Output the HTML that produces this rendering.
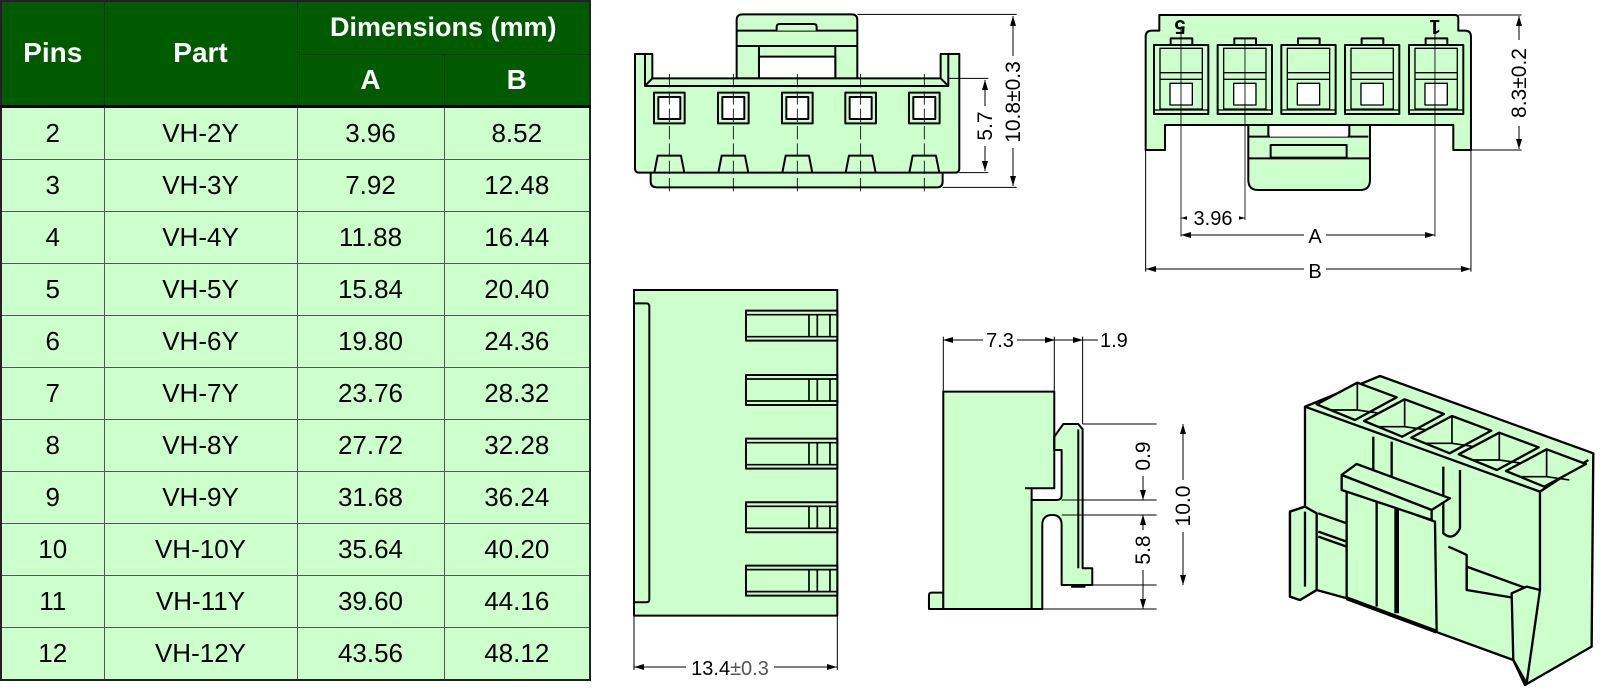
<!DOCTYPE html>
<html><head><meta charset="utf-8"><style>
html,body{margin:0;padding:0;background:#fff;}
body{width:1600px;height:691px;position:relative;overflow:hidden;font-family:"Liberation Sans",sans-serif;}
table{position:absolute;left:0;top:0;border-collapse:collapse;width:589px;table-layout:fixed;border:2px solid #222;}
td,th{border:1px solid #555;text-align:center;padding:0;font-size:26px;}
th{background:#005a00;color:#fff;font-weight:bold;border-color:#003a00;font-size:28px;}
td{background:#ccffcc;color:#000;height:51px;}
tr.h2 th{border-bottom:3px solid #000;}
svg{position:absolute;left:0;top:0;}
</style></head><body>
<table>
<colgroup><col style="width:103px"><col style="width:193px"><col style="width:147px"><col style="width:146px"></colgroup>
<tr style="height:53px"><th rowspan="2" style="border-bottom:3px solid #000">Pins</th><th rowspan="2" style="border-bottom:3px solid #000">Part</th><th colspan="2" style="font-size:27px">Dimensions (mm)</th></tr>
<tr class="h2" style="height:52px"><th>A</th><th>B</th></tr>
<tr><td>2</td><td>VH-2Y</td><td>3.96</td><td>8.52</td></tr>
<tr><td>3</td><td>VH-3Y</td><td>7.92</td><td>12.48</td></tr>
<tr><td>4</td><td>VH-4Y</td><td>11.88</td><td>16.44</td></tr>
<tr><td>5</td><td>VH-5Y</td><td>15.84</td><td>20.40</td></tr>
<tr><td>6</td><td>VH-6Y</td><td>19.80</td><td>24.36</td></tr>
<tr><td>7</td><td>VH-7Y</td><td>23.76</td><td>28.32</td></tr>
<tr><td>8</td><td>VH-8Y</td><td>27.72</td><td>32.28</td></tr>
<tr><td>9</td><td>VH-9Y</td><td>31.68</td><td>36.24</td></tr>
<tr><td>10</td><td>VH-10Y</td><td>35.64</td><td>40.20</td></tr>
<tr><td>11</td><td>VH-11Y</td><td>39.60</td><td>44.16</td></tr>
<tr><td>12</td><td>VH-12Y</td><td>43.56</td><td>48.12</td></tr>
</table>

<svg width="1600" height="691" viewBox="0 0 1600 691" xmlns="http://www.w3.org/2000/svg" font-family="Liberation Sans, sans-serif">
<defs>
<marker id="ar" viewBox="0 0 10 6" refX="10" refY="3" markerWidth="10" markerHeight="6" markerUnits="userSpaceOnUse" orient="auto-start-reverse"><path d="M0,0 L10,3 L0,6 Z" fill="#000"/></marker>
</defs>

<!-- TOP LEFT VIEW -->
<g transform="translate(600,0) scale(0.3333)" fill="#ccffcc" stroke="#000" stroke-width="6" stroke-linejoin="round">
 <path d="M152,518 V545 Q152,562 170,562 H1012 Q1028,562 1028,545 V518"/>
 <path d="M410,235 V60 Q410,43 428,43 H755 Q772,43 772,60 V235 Z"/>
 <path d="M410,92 H772 M410,138 H772"/>
 <rect x="477" y="138" width="229" height="97"/>
 <rect x="477" y="170" width="229" height="65" fill="#fff"/>
 <path d="M530,92 V80 Q530,72 540,72 H640 Q650,72 650,80 V92"/>
 <path d="M105,162 H157 V235 H1022 V162 H1078 V505 Q1078,518 1065,518 H118 Q105,518 105,505 Z"/>
 <path d="M135,162 V258 L157,235 M135,258 H1045 L1022,235 M1045,258 V162" fill="none"/>
 <g>
  <rect x="162" y="278" width="92" height="92"/><rect x="175" y="291" width="66" height="66" fill="#fff"/>
  <rect x="354" y="278" width="92" height="92"/><rect x="367" y="291" width="66" height="66" fill="#fff"/>
  <rect x="546" y="278" width="92" height="92"/><rect x="559" y="291" width="66" height="66" fill="#fff"/>
  <rect x="736" y="278" width="92" height="92"/><rect x="749" y="291" width="66" height="66" fill="#fff"/>
  <rect x="927" y="278" width="92" height="92"/><rect x="940" y="291" width="66" height="66" fill="#fff"/>
 </g>
 <path d="M163,518 L173,467 H243 L253,518 M355,518 L365,467 H435 L445,518 M547,518 L557,467 H627 L637,518 M737,518 L747,467 H817 L827,518 M928,518 L938,467 H1008 L1018,518" fill="none"/>
 <path d="M208,222 V575 M400,222 V575 M592,222 V575 M782,222 V575 M973,222 V575" stroke-width="2.5" stroke-dasharray="40,12" fill="none"/>
 <path d="M772,43 H1250 M1045,235 H1165 M1078,518 H1165 M1028,562 H1250" stroke-width="3" fill="none"/>
</g>
<line x1="985" y1="80" x2="985" y2="171" stroke="#000" stroke-width="1" marker-start="url(#ar)" marker-end="url(#ar)"/>
<line x1="1013" y1="16" x2="1013" y2="186" stroke="#000" stroke-width="1" marker-start="url(#ar)" marker-end="url(#ar)"/>
<rect x="974" y="106" width="22" height="40" fill="#fff"/>
<rect x="1002" y="56" width="22" height="92" fill="#fff"/>
<text transform="translate(992,126) rotate(-90)" text-anchor="middle" font-size="21">5.7</text>
<text transform="translate(1020,102) rotate(-90)" text-anchor="middle" font-size="21">10.8±0.3</text>

<!-- TOP RIGHT VIEW -->
<g transform="translate(1100,0) scale(0.3333)" fill="#ccffcc" stroke="#000" stroke-width="6" stroke-linejoin="round">
 <path d="M445,375 V540 Q445,570 475,570 H780 Q810,570 810,540 V375 Z"/>
 <path d="M447,410 H805 M445,475 H810 M505,375 V410 M748,375 V410" fill="none"/>
 <rect x="510" y="375" width="233" height="35" fill="#fff" stroke="none"/>
 <rect x="512" y="435" width="228" height="38"/>
 <path d="M178,45 H1065 Q1075,45 1075,55 V92 H1095 Q1113,92 1113,110 V450 H1060 V375 H195 V450 H137 V110 Q137,92 155,92 H178 Z"/>
 <g id="cav">
  <rect x="212" y="115" width="65" height="22"/>
  <rect x="162" y="135" width="163" height="207"/>
  <rect x="180" y="145" width="127" height="182" fill="none" stroke-width="4"/>
  <path d="M180,218 H307 M180,238 H307" fill="none" stroke-width="4"/>
  <rect x="210" y="250" width="67" height="65" fill="#fff" stroke-width="4"/>
  <path d="M162,330 H325" fill="none" stroke-width="4"/>
 </g>
 <use href="#cav" x="191"/><use href="#cav" x="382"/><use href="#cav" x="573"/><use href="#cav" x="765"/>
 <path d="M243,80 V710 M435,115 V660 M1005,80 V710" stroke-width="2.5" fill="none"/>
 <path d="M137,450 V815 M1113,450 V815 M1075,45 H1265 M1113,450 H1265" stroke-width="3" fill="none"/>
</g>
<text transform="translate(1180,20) rotate(180)" text-anchor="middle" font-size="20" font-weight="bold">5</text>
<text transform="translate(1435,20) rotate(180)" text-anchor="middle" font-size="20" font-weight="bold">1</text>
<line x1="1181" y1="218" x2="1245" y2="218" stroke="#000" stroke-width="1" marker-start="url(#ar)" marker-end="url(#ar)"/>
<rect x="1187" y="206" width="52" height="22" fill="#fff"/>
<text x="1213" y="225" text-anchor="middle" font-size="20">3.96</text>
<line x1="1181" y1="235" x2="1435" y2="235" stroke="#000" stroke-width="1" marker-start="url(#ar)" marker-end="url(#ar)"/>
<rect x="1304" y="224" width="22" height="22" fill="#fff"/>
<text x="1315" y="243" text-anchor="middle" font-size="20">A</text>
<line x1="1146" y1="269" x2="1471" y2="269" stroke="#000" stroke-width="1" marker-start="url(#ar)" marker-end="url(#ar)"/>
<rect x="1304" y="258" width="22" height="24" fill="#fff"/>
<text x="1315" y="278" text-anchor="middle" font-size="20">B</text>
<line x1="1519" y1="16" x2="1519" y2="149" stroke="#000" stroke-width="1" marker-start="url(#ar)" marker-end="url(#ar)"/>
<rect x="1508" y="40" width="22" height="86" fill="#fff"/>
<text transform="translate(1526,83) rotate(-90)" text-anchor="middle" font-size="21">8.3±0.2</text>

<!-- BOTTOM LEFT + MIDDLE -->
<g transform="translate(610,270) scale(0.3333)" fill="#ccffcc" stroke="#000" stroke-width="6" stroke-linejoin="round">
 <rect x="72" y="60" width="610" height="977"/>
 <path d="M72,100 H110 Q118,100 118,110 V988 Q118,997 110,997 H72" fill="none"/>
 <g id="slot">
  <rect x="408" y="122" width="274" height="90"/>
  <path d="M408,134 H682 M408,200 H682 M597,134 V200 M622,134 V200 M660,134 V200" fill="none" stroke-width="5"/>
 </g>
 <use href="#slot" y="193"/><use href="#slot" y="384"/><use href="#slot" y="575"/><use href="#slot" y="765"/>
 <path d="M72,1037 V1200 M682,1037 V1200" stroke-width="3" fill="none"/>

 <path d="M1000,968 H965 Q957,968 957,976 V1017 H1000 Z"/>
 <path d="M1000,365 H1333 V655 H1265 V1017 H1000 Z"/>
 <path d="M1333,500 L1360,462 H1405 L1418,478 V895 H1447 V945 H1355 V765 Q1355,735 1327,735 Q1297,735 1297,765 V1017 H1265 V690 H1340 Q1355,690 1355,675 V540 H1333 Z"/>
 <path d="M1245,655 H1265 M1405,478 V895 M1333,540 V500" fill="none"/>
 <path d="M1385,945 V952 H1425 V945" fill="#000" stroke-width="3"/>
 <path d="M1000,365 V200 M1333,365 V200 M1418,462 V200 M1418,462 H1640 M1355,690 H1640 M1355,735 H1640 M1447,945 H1640 M1297,1017 H1640" stroke-width="3" fill="none"/>
</g>
<line x1="634" y1="667" x2="837" y2="667" stroke="#000" stroke-width="1" marker-start="url(#ar)" marker-end="url(#ar)"/>
<rect x="686" y="655" width="88" height="24" fill="#fff"/>
<text x="730" y="675" text-anchor="middle" font-size="20">13.4<tspan fill="#555">±0.3</tspan></text>
<line x1="943" y1="340" x2="1055" y2="340" stroke="#000" stroke-width="1" marker-start="url(#ar)" marker-end="url(#ar)"/>
<rect x="983" y="328" width="34" height="22" fill="#fff"/>
<text x="1000" y="347" text-anchor="middle" font-size="20">7.3</text>
<line x1="1055" y1="340" x2="1083" y2="340" stroke="#000" stroke-width="1" marker-end="url(#ar)"/>
<line x1="1083" y1="340" x2="1098" y2="340" stroke="#000" stroke-width="1"/>
<text x="1100" y="347" font-size="20">1.9</text>
<line x1="1143" y1="485" x2="1143" y2="500" stroke="#000" stroke-width="1" marker-end="url(#ar)"/>
<line x1="1143" y1="530" x2="1143" y2="515" stroke="#000" stroke-width="1" marker-end="url(#ar)"/>
<line x1="1143" y1="515" x2="1143" y2="609" stroke="#000" stroke-width="1" marker-start="url(#ar)" marker-end="url(#ar)"/>
<line x1="1143" y1="436" x2="1143" y2="485" stroke="#000" stroke-width="1"/>
<line x1="1183" y1="424" x2="1183" y2="585" stroke="#000" stroke-width="1" marker-start="url(#ar)" marker-end="url(#ar)"/>
<rect x="1132" y="436" width="22" height="40" fill="#fff"/>
<rect x="1132" y="530" width="22" height="40" fill="#fff"/>
<rect x="1172" y="480" width="22" height="52" fill="#fff"/>
<text transform="translate(1150,456) rotate(-90)" text-anchor="middle" font-size="21">0.9</text>
<text transform="translate(1150,550) rotate(-90)" text-anchor="middle" font-size="21">5.8</text>
<text transform="translate(1190,506) rotate(-90)" text-anchor="middle" font-size="21">10.0</text>

<!-- 3D VIEW -->
<g transform="translate(1240,360) scale(0.3333)" fill="#ccffcc" stroke="#000" stroke-width="7" stroke-linejoin="round">
 <path d="M195,140 L420,48 L1060,280 L1055,860 L855,975 L820,900 L600,820 L320,715 L230,690 L180,720 L150,710 L150,455 L195,440 Z"/>
 <path d="M195,140 L900,395 L1045,300 M900,395 V690" fill="none"/>
 <g id="c3">
  <path d="M230,133 L352,68 L470,112 L345,180 Z"/>
  <path d="M352,68 V150 L270,150 M352,150 L420,160" fill="none" stroke-width="5"/>
 </g>
 <use href="#c3" x="142" y="50"/><use href="#c3" x="284" y="100"/><use href="#c3" x="426" y="150"/><use href="#c3" x="568" y="200"/>
 <path d="M400,230 V420 M455,245 V420" fill="none"/>
 <path d="M610,320 V520 Q640,545 660,505 V330" />
 <path d="M625,560 Q650,570 680,585 V690" fill="none"/>
 <path d="M150,455 L195,440 L230,460 L230,690 L180,720 L150,710 Z"/>
 <path d="M195,455 V680 M235,460 L320,490 M235,515 L320,545 M235,530 L320,560" fill="none"/>
 <path d="M320,390 L585,485 L590,815 L320,715 Z"/>
 <path d="M305,345 L350,312 L630,415 L575,450 Z"/>
 <path d="M305,345 L575,450 L575,480 L305,390 Z"/>
 <path d="M410,425 V740" fill="none"/>
 <path d="M470,445 V760" stroke-width="14" fill="none"/>
 <path d="M320,715 L590,815" stroke-width="12" fill="none"/>
 <path d="M680,620 L860,685 L860,720 L680,690 Z" fill="none"/>
 <path d="M815,700 L860,680 L900,690 L860,970 L820,900 Z"/>
</g>
</svg>
</body></html>
